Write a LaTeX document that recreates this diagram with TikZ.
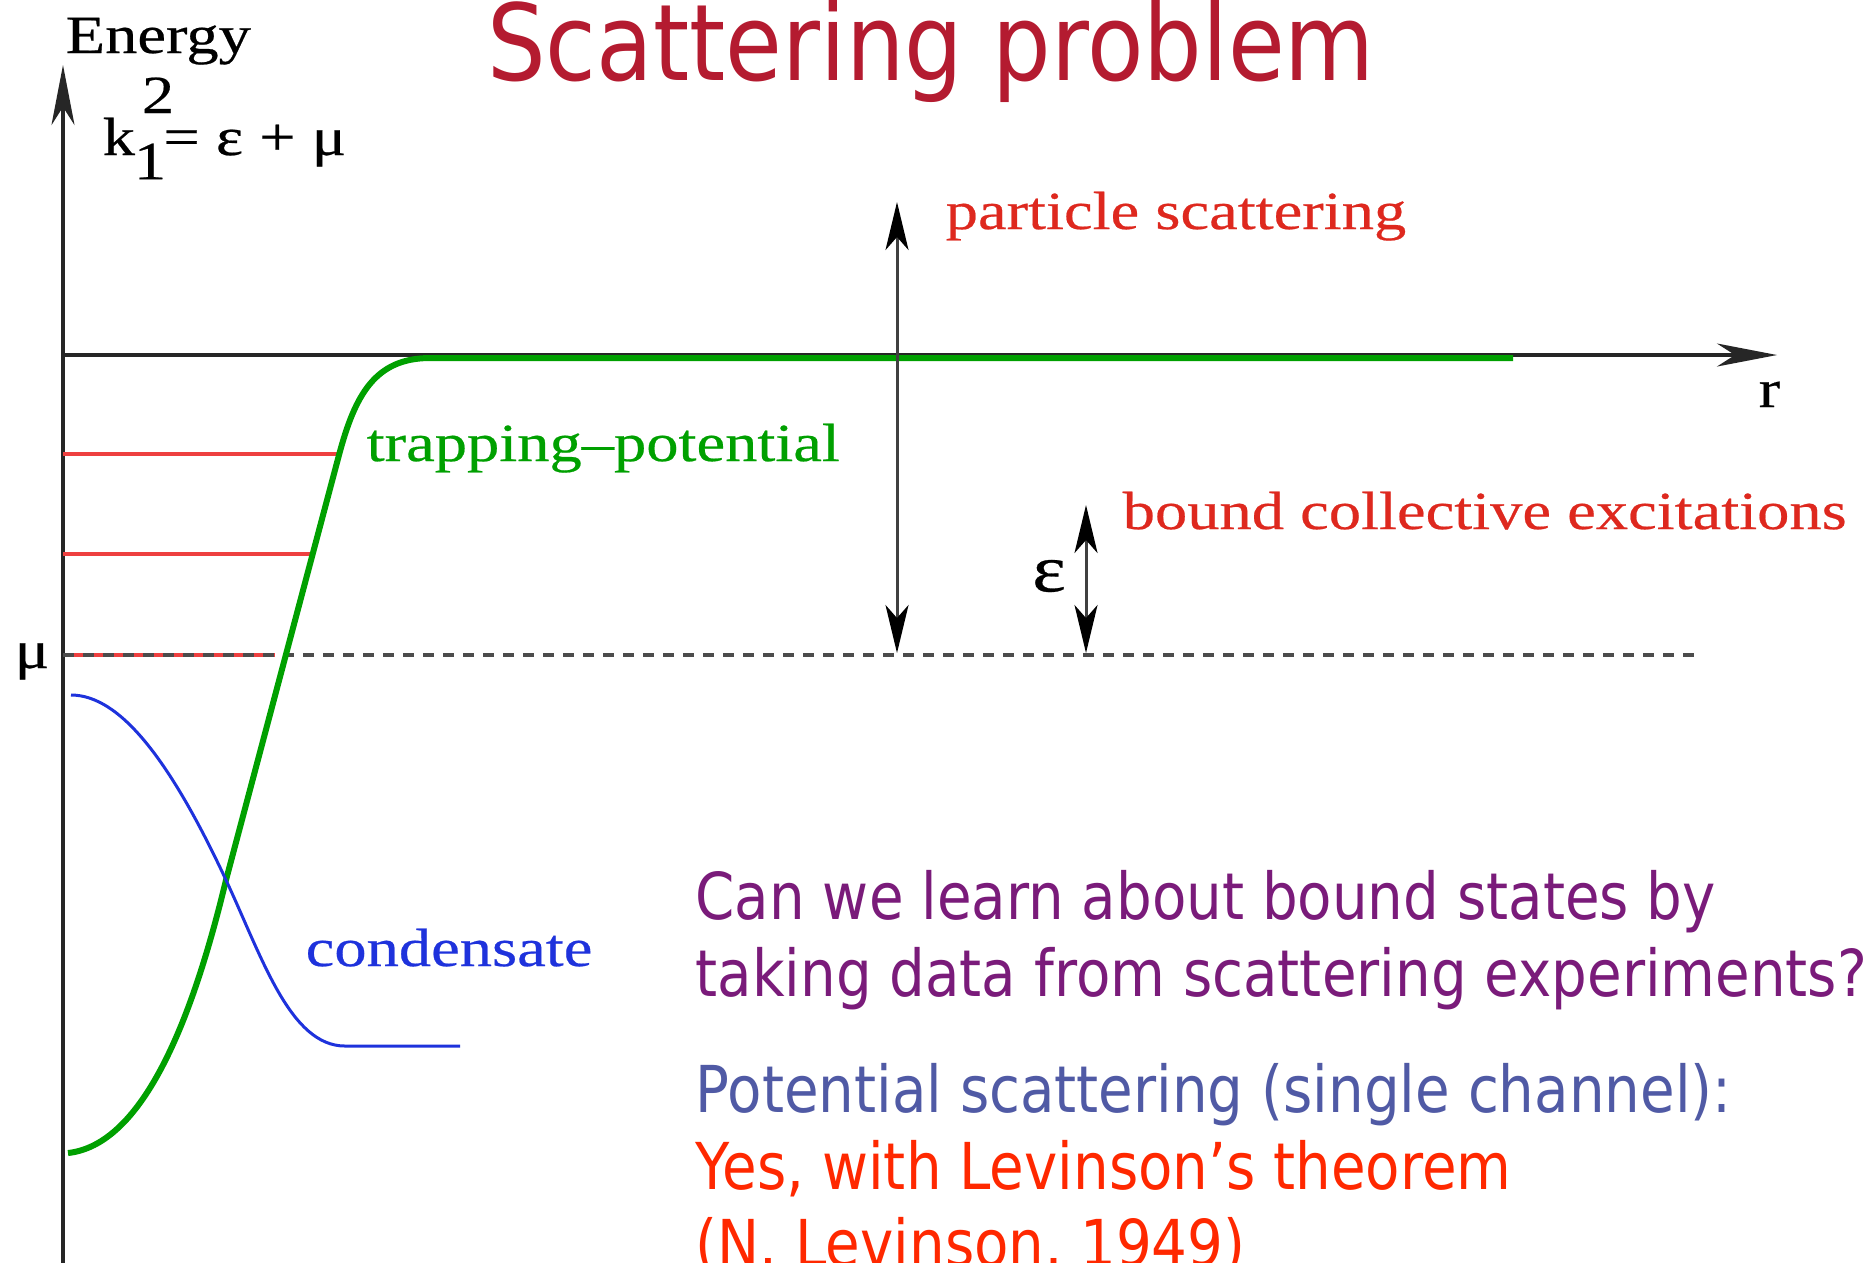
\documentclass[tikz,border=0pt]{standalone}
\usepackage{fontspec}
\setmainfont{Liberation Serif}
\newfontfamily\figfont[FakeStretch=1.2, FakeBold=0.4]{Liberation Serif}
\newfontfamily\slidefont[FakeStretch=0.87]{DejaVu Sans}
\usetikzlibrary{arrows.meta}

\definecolor{titlered}{RGB}{180,27,48}
\definecolor{askpurple}{RGB}{122,27,122}
\definecolor{potblue}{RGB}{80,90,165}
\definecolor{yesred}{RGB}{255,40,0}
\definecolor{labred}{RGB}{222,40,30}
\definecolor{trapgreen}{RGB}{0,160,0}
\definecolor{condblue}{RGB}{30,50,220}
\definecolor{levelred}{RGB}{238,64,64}

\begin{document}
\begin{tikzpicture}[x=0.1mm, y=0.1mm,
        axis/.style={draw=black!85, line width=0.35mm, -{Stealth[length=6mm, width=2.3mm, inset=1.8mm]}},
        gap_arrow/.style={draw=black!75, line width=0.3mm, {Stealth[length=4.8mm, width=2.3mm, inset=1.3mm, black]}-{Stealth[length=4.8mm, width=2.3mm, inset=1.3mm, black]}},
        level/.style={draw=levelred, line width=0.4mm},
        fig_label/.style={inner sep=0, anchor=base west, font=\figfont\fontsize{15.3}{18}\selectfont},
        slide_text/.style={inner sep=0, anchor=base west, font=\slidefont\fontsize{18.4}{22}\selectfont}
    ]
    \useasboundingbox[fill=white] (0,0) rectangle (1864,-1262);

    % ================= Title =================
    \node[inner sep=0, anchor=base, font=\slidefont\fontsize{30.2}{36}\selectfont, text=titlered] (title) at (931,-80) {Scattering problem};

    % ================= Axes =================
    \coordinate (origin) at (63,-355);
    \coordinate (r_end) at (1777,-355);
    \coordinate (e_low) at (63,-1275);
    \coordinate (e_end) at (63,-65);
    \draw[axis] (e_low) -- (e_end);
    \draw[axis] (origin) -- (r_end);

    \node[fig_label] (energy) at (65,-53) {Energy};
    \node[fig_label] (k_rel) at (102,-155) {k\hspace{-0.02em}\raisebox{-0.45em}{1}\hspace{-0.45em}\raisebox{0.78em}{2}\hspace{-0.2em}= ε + μ};
    \node[fig_label] (r_lab) at (1758,-407) {r};
    \node[fig_label] (mu_lab) at (14,-668) {μ};

    % ================= Chemical potential and levels =================
    \coordinate (mu_left) at (63,-655);
    \coordinate (mu_red) at (275,-655);
    \coordinate (mu_right) at (1702,-655);
    \draw[draw=levelred, line width=0.45mm] (mu_left) -- (mu_red);
    \draw[draw=black!70, line width=0.4mm, dash pattern=on 1.1mm off 0.9mm] (mu_left) -- (mu_right);

    \draw[level] (63,-454) -- (339,-454);
    \draw[level] (63,-554) -- (313,-554);

    % ================= Trapping potential =================
    \draw[trapgreen, line width=0.6mm] (68,-1153) .. controls (140,-1145) and (190,-1030) .. (226,-880)
        -- (339,-455) .. controls (355,-395) and (375,-358) .. (430,-358) -- (1513,-358);
    \node[fig_label, text=trapgreen] (trap_lab) at (366,-461) {trapping–potential};

    % ================= Condensate =================
    \draw[condblue, line width=0.3mm] (71,-695) .. controls (120,-695) and (170,-760) .. (226,-880)
        .. controls (262,-957) and (290,-1046) .. (345,-1046) -- (460,-1046);
    \node[fig_label, text=condblue] (cond_lab) at (305,-966) {condensate};

    % ================= Energy gaps =================
    \coordinate (ps_low) at (897,-653);
    \coordinate (ps_top) at (897,-202);
    \draw[gap_arrow] (ps_low) -- (ps_top);
    \node[fig_label, text=labred] (ps_lab) at (945,-229) {particle scattering};

    \coordinate (eps_low) at (1086,-653);
    \coordinate (eps_top) at (1086,-505);
    \draw[gap_arrow] (eps_low) -- (eps_top);
    \node[inner sep=0, font=\figfont\fontsize{19}{22}\selectfont] (eps_lab) at (1049,-576) {ε};
    \node[fig_label, text=labred] (bound_lab) at (1122,-529) {bound collective excitations};

    % ================= Question text =================
    \node[slide_text, text=askpurple] (ask1) at (695,-919) {Can we learn about bound states by};
    \node[slide_text, text=askpurple] (ask2) at (695,-996) {taking data from scattering experiments?};
    \node[slide_text, text=potblue] (pot) at (695,-1112) {Potential scattering (single channel):};
    \node[slide_text, text=yesred] (yes1) at (695,-1189) {Yes, with Levinson’s theorem};
    \node[slide_text, text=yesred] (yes2) at (695,-1266) {(N. Levinson, 1949)};
\end{tikzpicture}
\end{document}
